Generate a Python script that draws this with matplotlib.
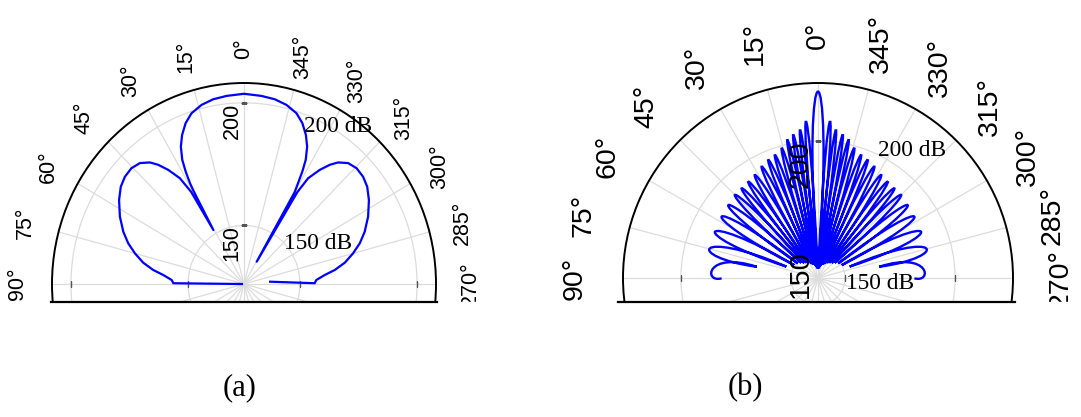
import numpy as np
import matplotlib
matplotlib.use('Agg')
import matplotlib.pyplot as plt
from matplotlib.path import Path
from matplotlib.patches import PathPatch, Rectangle
from matplotlib.lines import Line2D
from matplotlib.transforms import ScaledTranslation

W, H = 1081, 417

# angular grid (deg), only the upper half carries labels
theta_ticks = [0, 15, 30, 45, 60, 75, 90, 105, 120, 135, 150, 165,
               180, 195, 210, 225, 240, 255, 270, 285, 300, 315, 330, 345]
theta_labels = ['0°', '15°', '30°', '45°', '60°', '75°', '90°',
                '', '', '', '', '', '', '', '', '', '', '',
                '270°', '285°', '300°', '315°', '330°', '345°']
r_ticks = [150, 200]
r_tick_labels = ['150', '200']

# (a) three-lobe pattern, angle (deg) and level (dB), from +90 to -90
a_theta = [90.5, 89.4, 87.0, 83.9, 81.6, 78.6, 75.0, 71.4, 67.5, 62.6,
           57.3, 53.0, 49.3, 45.5, 42.0, 39.0, 37.0, 34.8, 32.4, 31.0,
           30.7,
           29.6, 29.3, 28.5, 27.5, 25.7, 23.5, 20.8, 17.8, 13.9, 9.9, 5.5,
           0.0,
           -5.5, -9.9, -13.9, -17.8, -20.8, -23.5, -25.7, -27.5, -28.5,
           -29.3, -30.0,
           -30.8,
           -31.3, -32.4, -34.8, -37.0, -39.0, -42.0, -45.5, -49.3, -53.0,
           -57.3, -62.6, -67.5, -71.4, -75.0, -78.6, -81.6, -83.9, -87.0,
           -89.4, -85.2]
a_db = [127.0, 156.3, 157.0, 160.8, 165.3, 170.0, 174.3, 178.3, 181.9, 185.8,
        189.5, 192.0, 193.2, 193.5, 192.5, 189.9, 187.0, 182.8, 177.2, 170.0,
        151.7,
        169.4, 173.2, 178.3, 183.2, 188.3, 192.4, 196.3, 199.3, 201.4, 202.6,
        203.2,
        203.7,
        203.2, 202.6, 201.4, 199.3, 196.3, 192.4, 188.3, 183.2, 178.3,
        173.2, 169.4,
        136.7,
        170.0, 177.2, 182.8, 187.0, 189.9, 192.5, 193.5, 193.2, 192.0,
        189.5, 185.8, 181.9, 178.3, 174.3, 170.0, 165.3, 160.8, 157.0,
        156.3, 137.3]

# (b) array pattern: main lobe plus side lobes (left half, inner -> outer)
b_main = (0.0, 222.4)
b_tip_deg = [4.4, 6.9, 9.8, 12.5, 15.6, 19.3, 22.8, 26.8, 31.5, 35.9,
             40.4, 45.0, 50.9, 57.5, 65.8, 74.6, 84.7]
b_tip_db = [209.0, 205.4, 203.7, 202.0, 198.9, 196.9, 195.9, 194.4, 192.6,
            191.7, 191.2, 191.1, 190.2, 189.6, 189.0, 188.6, 185.5]
b_null_deg = [2.6, 5.6, 8.3, 11.1, 14.0, 17.4, 21.0, 24.8, 29.1, 33.7,
              38.1, 42.7, 47.9, 54.2, 61.6, 70.2, 79.6]
b_null_db = [142.0, 142.5, 143.0, 143.5, 144.0, 144.0, 144.5, 145.0, 145.5,
             146.0, 146.5, 147.0, 148.0, 149.0, 150.0, 153.0, 166.0]
b_end = (90.2, 181.5)


def px_box(cx, cy, rx, ry):
    return [(cx - rx) / W, 1 - (cy + ry) / H, 2 * rx / W, 2 * ry / H]


def setup(ax, rlim, size, pad, rdx):
    ax.set_theta_zero_location('N')
    ax.set_theta_direction(1)
    ax.set_thetagrids(theta_ticks, theta_labels, fontsize=size,
                      family='Liberation Sans')
    ax.set_rgrids(r_ticks, labels=['', ''])
    ax.set_rlim(*rlim)
    ax.set_aspect('auto')
    ax.tick_params(axis='x', pad=pad, labelrotation=90)
    ax.grid(color='#dcdcdc', lw=0.9)
    ax.spines['polar'].set_color('black')
    ax.spines['polar'].set_linewidth(1.4)
    # small tick marks on the 0 and +-90 deg spokes
    ax.plot([0, 0], r_ticks, ls='none', marker='_', ms=4, mew=1, color='#555555')
    ax.plot(np.deg2rad([90, 90, 270, 270]), r_ticks * 2, ls='none',
            marker='|', ms=4, mew=1, color='#555555')
    shift = ScaledTranslation(rdx / 100, 0, fig.dpi_scale_trans)
    for r, lab in zip(r_ticks, r_tick_labels):
        ax.text(0, r, lab, rotation=90, ha='center', va='top', fontsize=size,
                family='Liberation Sans', transform=ax.transData + shift,
                zorder=5)


def _xy(p, rmin):
    d = p[1] - rmin
    return np.array([d * np.sin(p[0]), d * np.cos(p[0])])


def _polar(v, rmin):
    return (np.arctan2(v[0], v[1]), rmin + np.hypot(v[0], v[1]))


def petal(start, tip, end, rmin, k=1.7):
    # cubic bezier from one null to the next, passing through the lobe tip
    p0, pt, p3 = _xy(start, rmin), _xy(tip, rmin), _xy(end, rmin)
    m = (pt - 0.125 * (p0 + p3)) / 0.75
    u = pt / np.hypot(*pt)
    n = np.array([-u[1], u[0]])
    if np.dot(p0 - p3, n) < 0:
        n = -n
    w = k * np.hypot(*pt) * np.tan(abs(start[0] - end[0]) / 2)
    return [_polar(m + w * n, rmin), _polar(m - w * n, rmin), end]


fig = plt.figure(figsize=(W / 100, H / 100), dpi=100)

# ---- (a)
ax1 = fig.add_axes(px_box(244, 284, 192, 201), projection='polar')
setup(ax1, (126.1, 208.1), 15.5, 14, -12)
ax1.plot(np.deg2rad(a_theta), a_db, color='#0000ff', lw=1.6)
ax1.text(np.deg2rad(-31.9), 202, '200 dB', fontsize=16.8,
         family='Liberation Serif', ha='center', va='center')
ax1.text(np.deg2rad(-62.7), 161.7, '150 dB', fontsize=16.8,
         family='Liberation Serif', ha='center', va='center')

# ---- (b)
rmin_b = 137.7
ax2 = fig.add_axes(px_box(818, 278, 195, 195), projection='polar')
setup(ax2, (rmin_b, 226.3), 20.5, 24, -17)

tips = [(np.deg2rad(a), r) for a, r in zip(b_tip_deg, b_tip_db)]
nulls = [(np.deg2rad(a), r) for a, r in zip(b_null_deg, b_null_db)]
end = (np.deg2rad(b_end[0]), b_end[1])
main = (np.deg2rad(b_main[0]), b_main[1])


def mirror(p):
    return (-p[0], p[1])


verts = [end]
codes = [Path.MOVETO]
prev = end
# left side, outer -> inner
for i in range(len(tips) - 1, -1, -1):
    verts += petal(prev, tips[i], nulls[i], rmin_b)
    codes += [Path.CURVE4] * 3
    prev = nulls[i]
# main lobe
verts += petal(prev, main, mirror(nulls[0]), rmin_b, k=2.2)
codes += [Path.CURVE4] * 3
prev = mirror(nulls[0])
# right side, inner -> outer
for i in range(len(tips)):
    nxt = mirror(nulls[i + 1]) if i + 1 < len(nulls) else mirror(end)
    verts += petal(prev, mirror(tips[i]), nxt, rmin_b)
    codes += [Path.CURVE4] * 3
    prev = nxt

ax2.add_patch(PathPatch(Path(verts, codes), fill=False, edgecolor='#0000ff',
                        lw=1.7, transform=ax2.transData, zorder=3))
ax2.text(np.deg2rad(-36.5), 209.5, '200 dB', fontsize=16.8,
         family='Liberation Serif', ha='center', va='center', zorder=5)
ax2.text(np.deg2rad(-95.5), 166, '150 dB', fontsize=16.8,
         family='Liberation Serif', ha='center', va='center', zorder=5)
ax2.set_rlim(rmin_b, 226.3)

# blank strip below the base line, then the base lines themselves
y_base = 1 - 301.5 / H
fig.add_artist(Rectangle((0, 0), 1, y_base, transform=fig.transFigure,
                         color='white', zorder=5))
for x0, x1 in [(51, 437), (618, 1015)]:
    fig.add_artist(Line2D([x0 / W, x1 / W], [y_base, y_base],
                          transform=fig.transFigure, color='black', lw=1.6,
                          zorder=6))

fig.text(240 / W, 1 - 388 / H, '(a)', ha='center', va='center', fontsize=22,
         family='Liberation Serif', zorder=7)
fig.text(745 / W, 1 - 388 / H, '(b)', ha='center', va='center', fontsize=22,
         family='Liberation Serif', zorder=7)

fig.savefig('out.png', dpi=100)
